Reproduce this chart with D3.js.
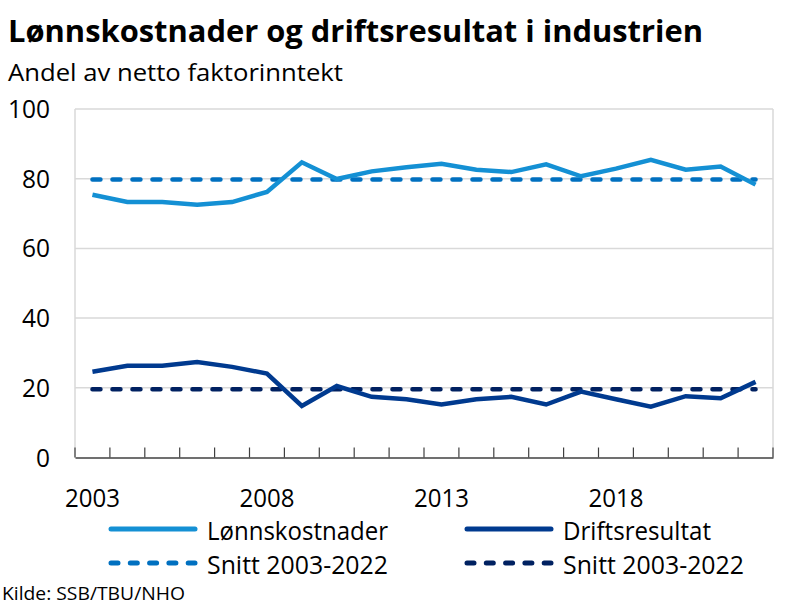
<!DOCTYPE html>
<html><head><meta charset="utf-8">
<script src="https://cdn.jsdelivr.net/npm/d3@7"></script>
<style>body{margin:0;background:#fff}svg{display:block;font-family:"Open Sans","Noto Sans",sans-serif}</style>
</head><body><svg id="c" width="790" height="607"></svg>
<script>
const years = d3.range(2003, 2023);
const lonn = [75.4,73.3,73.3,72.5,73.3,76.2,84.7,79.9,82.1,83.3,84.3,82.6,81.9,84.1,80.7,82.9,85.4,82.6,83.5,78.3];
const drift = [24.6,26.3,26.3,27.4,26.0,24.1,14.8,20.5,17.4,16.7,15.2,16.7,17.4,15.2,18.9,16.7,14.6,17.6,17.0,21.7];
const snittLonn = 79.8;
const snittDrift = 19.6;
const yTicks = [0,20,40,60,80,100];
const xTickLabels = [2003,2008,2013,2018];
const title = "Lønnskostnader og driftsresultat i industrien";
const subtitle = "Andel av netto faktorinntekt";
const source = "Kilde: SSB/TBU/NHO";
const series = [
  {name:"Lønnskostnader", color:"#1490d4", dash:null},
  {name:"Driftsresultat", color:"#003a8f", dash:null},
  {name:"Snitt 2003-2022", color:"#0070c0", dash:"8,12"},
  {name:"Snitt 2003-2022", color:"#002161", dash:"8,12"}
];

const svg = d3.select("#c");
const L=75, R=773, T=109, B=457.5;
const x = d3.scaleBand().domain(years).range([L,R]);
const y = d3.scaleLinear().domain([0,100]).range([B,T]);
const cx = d => x(d)+x.bandwidth()/2;

// gridlines
svg.append("g").selectAll("line").data(yTicks.filter(d=>d>0)).join("line")
  .attr("x1",L).attr("x2",R).attr("y1",d=>y(d)).attr("y2",d=>y(d))
  .attr("stroke","#d9d9d9").attr("stroke-width",1.5);
svg.append("line").attr("x1",L).attr("x2",L).attr("y1",T).attr("y2",B).attr("stroke","#d9d9d9").attr("stroke-width",1.5);
svg.append("line").attr("x1",R).attr("x2",R).attr("y1",T).attr("y2",B).attr("stroke","#d9d9d9").attr("stroke-width",1.5);

// y labels
svg.append("g").selectAll("text").data(yTicks).join("text")
  .attr("x",50).attr("y",d=>y(d)+9).attr("text-anchor","end")
  .attr("font-size",25).attr("fill","#000")
  .attr("textLength",d=>String(d).length*14).attr("lengthAdjust","spacingAndGlyphs")
  .text(d=>d);

// x axis
const xa = svg.append("g").attr("transform",`translate(0,${B})`)
  .call(d3.axisBottom(x).tickSize(0).tickFormat(""));
xa.select(".domain").attr("stroke","#404040").attr("stroke-width",1.5);
const edges = years.map(d=>x(d)).concat([R]);
svg.append("g").selectAll("line").data(edges).join("line")
  .attr("x1",d=>d).attr("x2",d=>d).attr("y1",B).attr("y2",B-10)
  .attr("stroke","#404040").attr("stroke-width",1.2);
svg.append("g").selectAll("text").data(xTickLabels).join("text")
  .attr("x",d=>cx(d)).attr("y",507).attr("text-anchor","middle")
  .attr("font-size",26).attr("fill","#000")
  .attr("textLength",55).attr("lengthAdjust","spacingAndGlyphs")
  .text(d=>d);

// lines
const line = d3.line().x((d,i)=>cx(years[i])).y(d=>y(d));
const draw = (vals, s) => svg.append("path").datum(vals).attr("d",line)
  .attr("fill","none").attr("stroke",s.color).attr("stroke-width",4.5)
  .attr("stroke-linejoin","miter").attr("stroke-linecap", s.dash?"round":"butt")
  .attr("stroke-dasharray", s.dash);
draw(years.map(()=>snittLonn), series[2]);
draw(years.map(()=>snittDrift), series[3]);
draw(lonn, series[0]);
draw(drift, series[1]);

// legend
const lg = [
  {s:series[0], x:109, y:529, w:181},
  {s:series[1], x:465, y:529, w:148},
  {s:series[2], x:109, y:563, w:181},
  {s:series[3], x:465, y:563, w:181}
];
lg.forEach(o=>{
  svg.append("line").attr("x1",o.x+2).attr("x2",o.x+86).attr("y1",o.y).attr("y2",o.y)
    .attr("stroke",o.s.color).attr("stroke-width",5).attr("stroke-linecap","round")
    .attr("stroke-dasharray",o.s.dash?"7,12.3":null);
  svg.append("text").attr("x",o.x+98).attr("y",o.y+11).attr("font-size",26).attr("fill","#000")
    .attr("textLength",o.w).attr("lengthAdjust","spacingAndGlyphs").text(o.s.name);
});

svg.append("text").attr("x",8).attr("y",42).attr("font-size",30).attr("font-weight","bold").attr("fill","#000")
  .attr("textLength",695).attr("lengthAdjust","spacingAndGlyphs").text(title);
svg.append("text").attr("x",8).attr("y",81).attr("font-size",24).attr("fill","#000")
  .attr("textLength",335).attr("lengthAdjust","spacingAndGlyphs").text(subtitle);
svg.append("text").attr("x",2).attr("y",600).attr("font-size",18).attr("fill","#000")
  .attr("textLength",183).attr("lengthAdjust","spacingAndGlyphs").text(source);
</script></body></html>
